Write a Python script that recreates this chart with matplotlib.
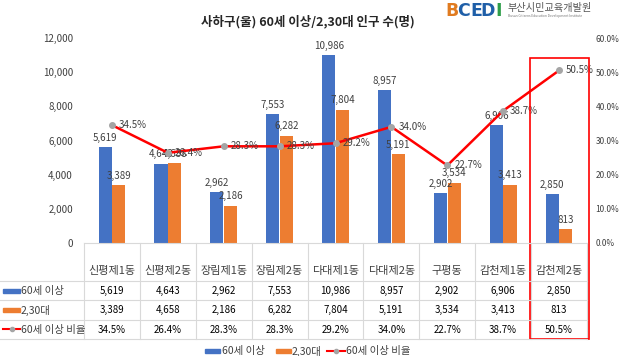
import matplotlib
matplotlib.use('Agg')
import matplotlib.pyplot as plt
import matplotlib.transforms as mtransforms
from matplotlib.patches import Rectangle
from matplotlib.lines import Line2D

plt.rcParams['font.family'] = ['Noto Sans CJK KR', 'DejaVu Sans']

dongs = ['신평제1동', '신평제2동', '장림제1동', '장림제2동', '다대제1동',
         '다대제2동', '구평동', '감천제1동', '감천제2동']
over60 = [5619, 4643, 2962, 7553, 10986, 8957, 2902, 6906, 2850]
age2030 = [3389, 4658, 2186, 6282, 7804, 5191, 3534, 3413, 813]
ratio = [34.5, 26.4, 28.3, 28.3, 29.2, 34.0, 22.7, 38.7, 50.5]
series_names = ['60세 이상', '2,30대', '60세 이상 비율']

W, H = 621, 356
blue = '#4472C4'
orange = '#ED7D31'
red = '#FF0000'
grid = '#D9D9D9'
txt = '#404040'

fig = plt.figure(figsize=(W / 100, H / 100), dpi=100)
x0, x1, ytop, ybot = 84, 587, 38, 243
ax = fig.add_axes([x0 / W, 1 - ybot / H, (x1 - x0) / W, (ybot - ytop) / H])
ax2 = ax.twinx()

n = len(dongs)
idx = list(range(n))
bw = 0.235
ax.bar([i - 0.122 for i in idx], over60, bw, color=blue, zorder=2)
ax.bar([i + 0.122 for i in idx], age2030, bw, color=orange, zorder=2)
for i in idx:
    ax.text(i - 0.122, over60[i] + 250, f'{over60[i]:,}', ha='center', va='bottom',
            fontsize=7, color=txt)
    ax.text(i + 0.122, age2030[i] + 250, f'{age2030[i]:,}', ha='center', va='bottom',
            fontsize=7, color=txt)

ax.set_xlim(-0.5, n - 0.5)
ax.set_ylim(0, 12000)
ax.set_yticks(range(0, 12001, 2000))
ax.set_yticklabels([f'{v:,}' for v in range(0, 12001, 2000)])
ax.set_xticks([])
ax.tick_params(axis='y', length=0, labelsize=7, labelcolor=txt, pad=8)

ax2.plot(idx, ratio, color=red, lw=1.8, marker='o', ms=4, mfc='#A5A5A5',
         mec='#A5A5A5', zorder=3)
for i in idx:
    ax2.annotate(f'{ratio[i]:.1f}%', (i, ratio[i]), xytext=(5, 0),
                 textcoords='offset points', ha='left', va='center',
                 fontsize=7, color=txt)
ax2.set_ylim(0, 60)
ax2.set_yticks(range(0, 61, 10))
ax2.set_yticklabels([f'{v:.1f}%' for v in range(0, 61, 10)])
ax2.tick_params(axis='y', length=0, labelsize=6, labelcolor=txt, pad=6)

for a in (ax, ax2):
    for s in a.spines.values():
        s.set_visible(False)

# data table under the plot
tr = mtransforms.blended_transform_factory(ax.transData, fig.transFigure)
def fy(p):
    return 1 - p / H

row_lines = [281, 300, 320, 339]
fig.add_artist(Line2D([x0 / W, x1 / W], [fy(243)] * 2, color=grid, lw=0.8))
for yl in row_lines:
    fig.add_artist(Line2D([0, x1 / W], [fy(yl)] * 2, color=grid, lw=0.8))
for k in range(n + 1):
    xs = k - 0.5
    ax.add_artist(Line2D([xs, xs], [fy(243), fy(339)], color=grid, lw=0.8,
                         transform=tr, clip_on=False))

for i in idx:
    ax.text(i, fy(271), dongs[i], transform=tr, ha='center', va='center',
            fontsize=8, color=txt)
    ax.text(i, fy(291), f'{over60[i]:,}', transform=tr, ha='center', va='center',
            fontsize=7, color='black')
    ax.text(i, fy(310), f'{age2030[i]:,}', transform=tr, ha='center', va='center',
            fontsize=7, color='black')
    ax.text(i, fy(330), f'{ratio[i]:.1f}%', transform=tr, ha='center', va='center',
            fontsize=7, color='black')

fig.add_artist(Rectangle((3 / W, fy(293)), 17 / W, 4 / H, color=blue))
fig.add_artist(Rectangle((3 / W, fy(312)), 17 / W, 4 / H, color=orange))
fig.add_artist(Line2D([3 / W, 20 / W], [fy(329)] * 2, color=red, lw=1.5))
fig.add_artist(Line2D([11.5 / W], [fy(329)], marker='o', ms=3, color='#A5A5A5'))
for yy, name in zip([291, 310, 330], series_names):
    fig.text(21 / W, fy(yy), name, ha='left', va='center', fontsize=7.5, color=txt)

# legend at the bottom
ly = fy(351)
fig.add_artist(Rectangle((205 / W, ly - 2 / H), 15 / W, 4 / H, color=blue))
fig.text(222 / W, ly, series_names[0], ha='left', va='center', fontsize=7.5, color=txt)
fig.add_artist(Rectangle((276 / W, ly - 2 / H), 15 / W, 4 / H, color=orange))
fig.text(292 / W, ly, series_names[1], ha='left', va='center', fontsize=7.5, color=txt)
fig.add_artist(Line2D([327 / W, 345 / W], [ly, ly], color=red, lw=1.5))
fig.add_artist(Line2D([336 / W], [ly], marker='o', ms=3, color='#A5A5A5'))
fig.text(346 / W, ly, series_names[2], ha='left', va='center', fontsize=7.5, color=txt)

# highlight box around the last district
fig.add_artist(Rectangle((530 / W, fy(339)), 59 / W, (339 - 58) / H, fill=False,
                         ec=red, lw=1.2))

fig.text(308 / W, fy(22), '사하구(울) 60세 이상/2,30대 인구 수(명)', ha='center',
         va='center', fontsize=9, fontweight='bold', color='#262626')

# logo
for ch, xc, col in [('B', 452, '#E07B20'), ('C', 464, '#1F5FA8'),
                    ('E', 476, '#1F5FA8'), ('D', 488, '#1F5FA8'),
                    ('I', 499, '#2E9E4A')]:
    fig.text(xc / W, fy(11), ch, ha='center', va='center', fontsize=12.5,
             color=col, fontweight='bold', family='DejaVu Sans')
fig.text(508 / W, fy(8), '부산시민교육개발원', ha='left', va='center', fontsize=7.3,
         color='#555555')
fig.text(508 / W, fy(16.5), 'Busan Citizens Education Development Institute',
         ha='left', va='center', fontsize=2.4, color='#777777')

fig.savefig('out.png', dpi=100)
